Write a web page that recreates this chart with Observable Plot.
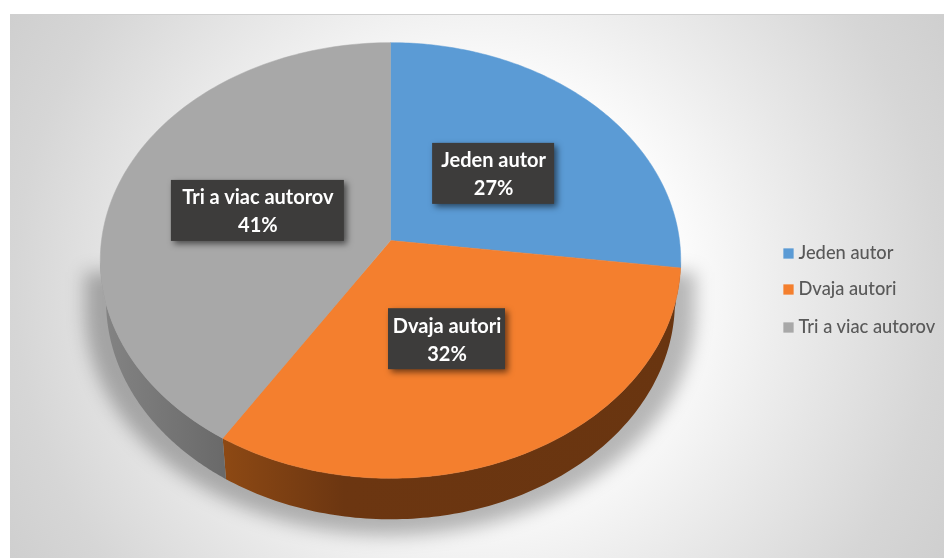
<!DOCTYPE html>
<html><head><meta charset="utf-8">
<script src="https://cdn.jsdelivr.net/npm/d3@7"></script>
<script src="https://cdn.jsdelivr.net/npm/@observablehq/plot@0.6"></script>
<style>
html,body{margin:0;padding:0;background:#fff;}
#wrap{position:relative;width:944px;height:558px;overflow:hidden;}
#bg{position:absolute;left:10px;top:14px;width:934px;height:544px;box-sizing:border-box;border-top:1px solid #d0d0d0;
background:radial-gradient(circle 660px at 467px 272px,#ffffff 0%,#ffffff 28%,#eeeeee 45%,#d6d6d6 70%,#c4c4c4 100%);}
#chart{position:absolute;left:0;top:0;filter:blur(0.5px);}
svg{background:transparent!important;display:block;}
</style></head><body>
<div id="wrap"><div id="bg"></div><div id="chart"></div></div>
<script>
const categories = ["Jeden autor", "Dvaja autori", "Tri a viac autorov"];
const shares = [27, 32, 41];
const colors = ["#5b9bd5", "#f47f2e", "#a8a8a8"];

// layout of the tilted pie (perspective projection of a disc)
const W = 944, H = 558;
const cx = 390, cy = 240, Rx = 289, Ry = 216, k = 0.0917, depth = 41, rimScale = 0.98;
const labelRadius = 0.48;
const boxW = [122, 117, 173], boxH = 61;
const labelDx = [2, -5, -1], labelDy = [0, 1, -1];
const shadowRx = 305, shadowRy = 225, shadowCy = 310, shadowTop = 272;
const legendX = 788, legendTextX = 798, legendY = [253, 289, 327];

const proj = (theta, f = 1) => {
  const w = 1 + k * f * Math.cos(theta);
  return {x: cx + Rx * f * Math.sin(theta) / w, y: cy - Ry * f * Math.cos(theta) / w};
};
const total = d3.sum(shares);
let acc = 0;
const slices = categories.map((name, i) => {
  const a0 = acc / total * 2 * Math.PI; acc += shares[i];
  const a1 = acc / total * 2 * Math.PI;
  return {name, i, share: shares[i], a0, a1, mid: (a0 + a1) / 2};
});
// widest points of the ellipse, where the visible rim begins and ends
const right = Math.acos(-k), left = 2 * Math.PI - right;

const wedge = slices.flatMap(s => {
  const pts = [{x: cx, y: cy, name: s.name}];
  for (const t of d3.range(0, 121)) pts.push({...proj(s.a0 + (s.a1 - s.a0) * t / 120), name: s.name});
  pts.push({x: cx, y: cy, name: s.name});
  return pts;
});
const rim = slices.flatMap(s => {
  const lo = Math.max(s.a0, right), hi = Math.min(s.a1, left);
  if (hi <= lo) return [];
  const arc = d3.range(0, 121).map(t => proj(lo + (hi - lo) * t / 120));
  const low = arc.map(p => ({x: cx + (p.x - cx) * rimScale, y: p.y + depth})).reverse();
  return [...arc, ...low, arc[0]].map(p => ({...p, name: s.name}));
});
const shadow = d3.range(0, 121).map(t => {
  const u = Math.PI * t / 120;
  return {x: cx + shadowRx * Math.cos(u), y1: shadowTop, y2: shadowCy + shadowRy * Math.sin(u)};
});
const labels = slices.map(s => {
  const p = proj(s.mid, labelRadius);
  return {x: p.x + labelDx[s.i], y: p.y + labelDy[s.i], w: boxW[s.i], text: `${s.name}\n${s.share}%`};
});
const legend = categories.map((name, i) => ({name, color: colors[i], x: legendX, tx: legendTextX, y: legendY[i]}));

const fillOf = d3.scaleOrdinal(categories, colors);
const plot = Plot.plot({
  width: W, height: H, margin: 0,
  x: {domain: [0, W], range: [0, W], axis: null},
  y: {domain: [0, H], range: [0, H], axis: null},
  style: {background: "transparent"},
  marks: [
    Plot.areaY(shadow, {x: "x", y1: "y1", y2: "y2", fill: "#000", fillOpacity: 0.28, imageFilter: "blur(9px)"}),
    Plot.line(rim, {x: "x", y: "y", z: "name", fill: d => d.name === categories[1] ? "url(#rimO)" : "url(#rimG)", stroke: "none"}),
    Plot.line(wedge, {x: "x", y: "y", z: "name", fill: d => fillOf(d.name), stroke: d => fillOf(d.name), strokeWidth: 0.5}),
    Plot.rect(labels, {x1: d => d.x - d.w / 2, x2: d => d.x + d.w / 2, y1: d => d.y - boxH / 2, y2: d => d.y + boxH / 2,
      fill: "#3d3c3b", imageFilter: "drop-shadow(3px 3px 3px rgba(0,0,0,0.55))"}),
    Plot.text(labels, {x: "x", y: "y", dy: -1.5, text: "text", fill: "#fff", fontSize: 20, fontWeight: 700, fontFamily: "Lato", lineHeight: 1.4}),
    Plot.dot(legend, {x: "x", y: "y", symbol: "square", r: 5.8, fill: "color"}),
    Plot.text(legend, {x: "tx", y: "y", text: "name", textAnchor: "start", fill: "#595959", fontSize: 18.3, fontFamily: "Lato", fontWeight: 500})
  ]
});
// gradient paints for the rim
const defs = d3.select(plot).insert("defs", ":first-child");
const grad = (id, stops) => {
  const g = defs.append("linearGradient").attr("id", id).attr("gradientUnits", "userSpaceOnUse")
    .attr("x1", 100).attr("x2", 680).attr("y1", 0).attr("y2", 0);
  stops.forEach(([o, c]) => g.append("stop").attr("offset", o).attr("stop-color", c));
};
grad("rimO", [[0.2, "#8f4a14"], [0.42, "#6c3611"], [1, "#693510"]]);
grad("rimG", [[0, "#848484"], [0.12, "#757575"], [0.21, "#6a6a6a"]]);
document.getElementById("chart").appendChild(plot);
</script>
</body></html>
